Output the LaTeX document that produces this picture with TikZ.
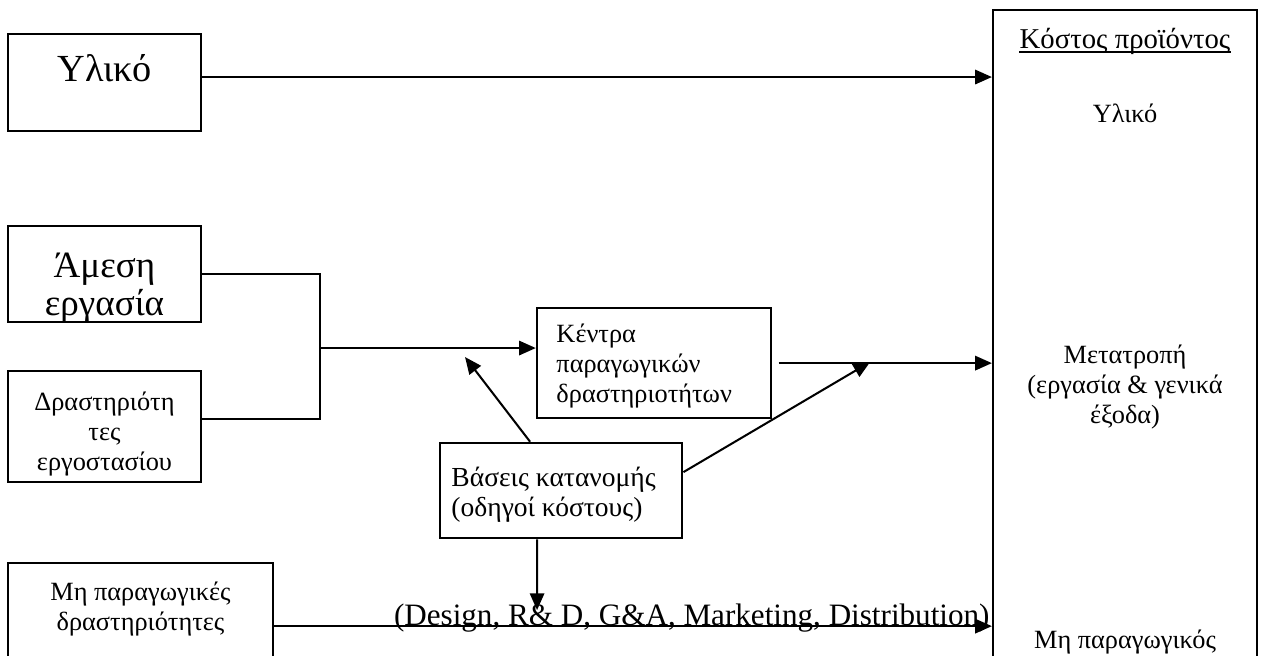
\documentclass[tikz,border=0pt]{standalone}
\usepackage{fontspec}
\setmainfont{Liberation Serif}
\usetikzlibrary{arrows.meta,fit,calc}

\tikzset{
  boxshape/.style={draw, line width=1.1pt, inner sep=0pt},
  conn/.style={line width=0.85pt},
  arr/.style={conn, -{Triangle[length=7pt,width=6pt]}},
  bigtxt/.style={font=\fontsize{16}{15.5}\selectfont, align=center, inner sep=0pt},
  smalltxt/.style={font=\fontsize{11}{12.5}\selectfont, inner sep=0pt},
}

\begin{document}
\begin{tikzpicture}[x=0.75pt,y=0.75pt,yscale=-0.557,xscale=0.557]
\useasboundingbox (0,0) rectangle (1263,655);
\clip (0,0) rectangle (1263,655);

%Shape: Rectangle
\node[boxshape, fit={(8,34) (201,131)}] (yliko) {};
\node[boxshape, fit={(8,226) (201,322)}] (amesi) {};
\node[boxshape, fit={(8,371) (201,482)}] (drast) {};
\node[boxshape, fit={(8,563) (273,689)}] (mi) {};
\node[boxshape, fit={(537,308) (771,418)}] (kentra) {};
\node[boxshape, fit={(440,443) (682,538)}] (vaseis) {};
\node[boxshape, fit={(993,10) (1257,760)}] (kostos) {};

% Text Node
\node[bigtxt, anchor=base] (ylikoT) at (104.5,81) {Υλικό};
\begin{scope}
  \clip (amesi.south west) rectangle (amesi.north east);
  \node[bigtxt, font=\fontsize{15.5}{15.5}\selectfont, anchor=base] (amesiT) at (104.5,315) {Άμεση\\εργασία};
\end{scope}
\node[smalltxt, align=center, anchor=base] (drastT) at (104.5,470) {Δραστηριότη\\τες\\εργοστασίου};
\node[smalltxt, align=center, anchor=base] (miT) at (140.5,630) {Μη παραγωγικές\\δραστηριότητες};
\node[smalltxt, align=left, anchor=base west] (kentraT) at (556,402) {Κέντρα\\παραγωγικών\\δραστηριοτήτων};
\node[smalltxt, font=\fontsize{11.5}{12.5}\selectfont, align=left, anchor=base west] (vaseisT) at (451,516) {Βάσεις κατανομής\\(οδηγοί κόστους)};
% Text Node
\node[smalltxt, font=\fontsize{12}{13}\selectfont, anchor=base] (kostosT) at (1125,48) {Κόστος προϊόντος};
\draw[line width=0.5pt] ($(kostosT.base west)+(0,4)$) -- ($(kostosT.base east)+(0,4)$);
\node[smalltxt, anchor=base] (ylikoR) at (1125,122) {Υλικό};
\node[smalltxt, align=center, anchor=base] (metatropi) at (1125,423) {Μετατροπή\\(εργασία \& γενικά\\έξοδα)};
\node[smalltxt, anchor=base] (miR) at (1125,648) {Μη παραγωγικός};
\node[font=\fontsize{13}{15}\selectfont, inner sep=0pt, anchor=base east] (other) at (990,625) {(Design, R\& D, G\&A, Marketing, Distribution)};

%Straight Lines
\coordinate (join) at (320,348);
\coordinate (tipA) at (465,357);
\coordinate (tipB) at (870,362);
\coordinate (tipC) at (537,610);
\coordinate (ylikoOut) at ($(yliko.east)+(0,-5.5)$);
\coordinate (drastOut) at ($(drast.east)+(0,-7.5)$);
\coordinate (kentraOut) at ($(kentra.east)+(6,0)$);

\draw[arr] (ylikoOut) -- (ylikoOut -| kostos.west);
\draw[conn] (amesi.east) -| (join) |- (drastOut);
\draw[arr] (join) -- (join -| kentra.west);
\draw[arr] (kentraOut) -- (kentraOut -| kostos.west);
\draw[arr] ($(vaseis.north)+(-31,0)$) -- (tipA);
\draw[arr] ($(vaseis.east)+(0,-18.5)$) -- (tipB);
\draw[arr] ($(vaseis.south)+(-24,0)$) -- (tipC);
\draw[arr] (mi.east) -- (mi.east -| kostos.west);

\end{tikzpicture}
\end{document}
